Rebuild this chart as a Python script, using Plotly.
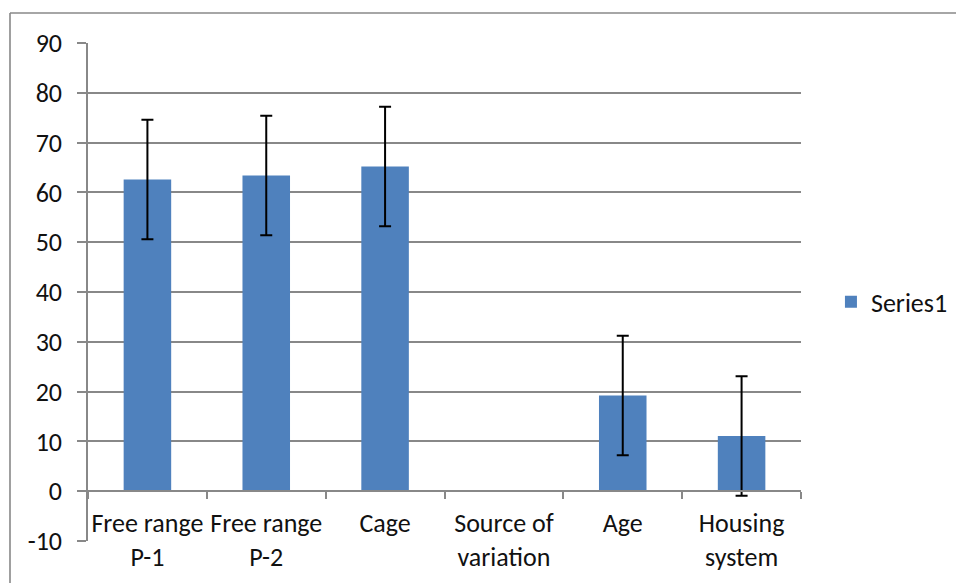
import plotly.graph_objects as go

categories = ["Free range<br>P-1", "Free range<br>P-2", "Cage", "Source of<br>variation", "Age", "Housing<br>system"]
values = [62.6, 63.4, 65.2, None, 19.2, 11.1]
errors = [12, 12, 12, None, 12, 12]
series_name = "Series1"
y_ticks = [-10, 0, 10, 20, 30, 40, 50, 60, 70, 80, 90]
y_tick_labels = ["-10", "0", "10", "20", "30", "40", "50", "60", "70", "80", "90"]

FONT = "Calibri, Carlito, Lato, sans-serif"
GRID = "#888888"
TXT = "#111111"

fig = go.Figure()
fig.add_trace(go.Bar(
    x=categories, y=values, name=series_name,
    marker=dict(color="#4F81BD", line=dict(width=0)),
    error_y=dict(type="data", array=errors, visible=True, color="black", thickness=2, width=6),
    showlegend=True,
))

fig.update_layout(
    width=956, height=583,
    margin=dict(l=88, r=155, t=43, b=42, autoexpand=False),
    paper_bgcolor="white", plot_bgcolor="white",
    bargap=0.6,
    font=dict(family=FONT, size=26, color=TXT),
    showlegend=True,
    legend=dict(x=1.042, y=0.48, xanchor="left", yanchor="middle",
                font=dict(family=FONT, size=26, color=TXT),
                bgcolor="rgba(0,0,0,0)"),
    xaxis=dict(
        anchor="free", position=0.1,
        showgrid=False, showline=True, linecolor=GRID, linewidth=1.5,
        ticks="outside", tickson="boundaries", ticklen=7, tickcolor=GRID, tickwidth=1.5,
        tickangle=0,
        ticklabelstandoff=9,
        tickfont=dict(family=FONT, size=26, color=TXT),
    ),
    yaxis=dict(
        range=[-10, 90], tickvals=y_ticks, ticktext=y_tick_labels, domain=[0, 1],
        showgrid=True, gridcolor=GRID, gridwidth=1.6,
        zeroline=False,
        showline=True, linecolor=GRID, linewidth=1.6,
        ticks="outside", ticklen=9, tickcolor=GRID, tickwidth=1.6,
        ticklabelstandoff=10,
        tickfont=dict(family=FONT, size=26, color=TXT),
    ),
)

# outer chart border: only top and left edges are visible in the reference
border_top = 1 + 30 / 498
border_left = -78 / 713
fig.add_shape(type="line", xref="paper", yref="paper",
              x0=border_left, x1=1.5, y0=border_top, y1=border_top,
              line=dict(color=GRID, width=1.6), layer="below")
fig.add_shape(type="line", xref="paper", yref="paper",
              x0=border_left, x1=border_left, y0=-0.3, y1=border_top,
              line=dict(color=GRID, width=1.6), layer="below")

fig.write_html(
    "out.html",
    config={"displayModeBar": False},
    post_script="document.body.style.margin='0';document.body.style.overflow='hidden';",
)
